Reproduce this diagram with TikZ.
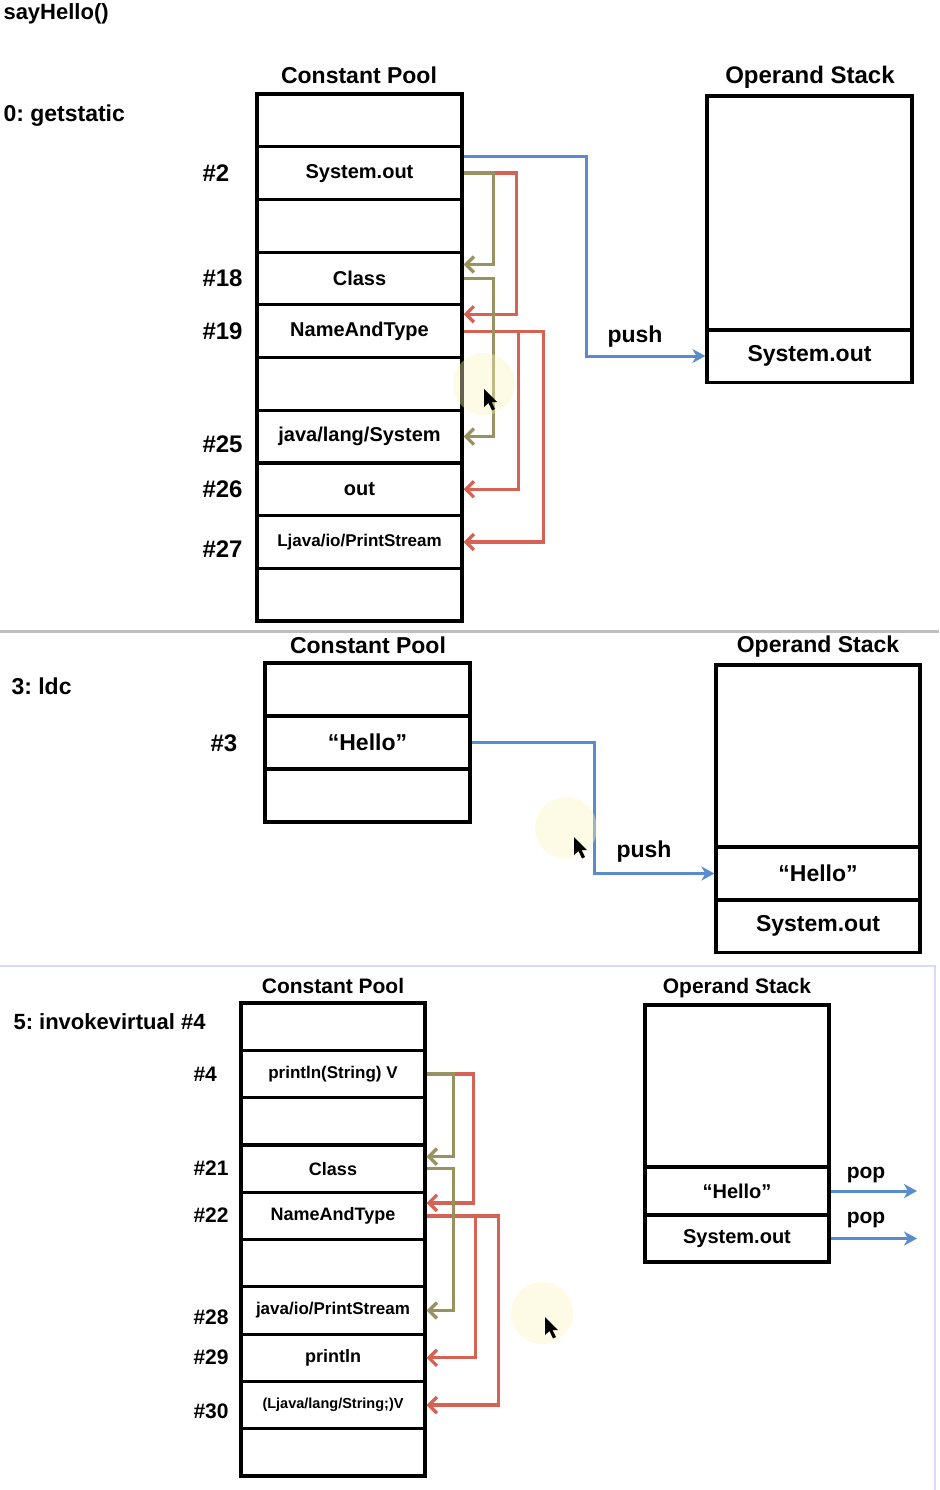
\documentclass[tikz,border=0pt]{standalone}
\usepackage{fontspec}
\setmainfont{Liberation Sans}
\usepackage{xcolor}
\usetikzlibrary{arrows.meta}
\definecolor{pushblue}{RGB}{88, 140, 204}
\definecolor{refolive}{RGB}{152, 146, 96}
\definecolor{refred}{RGB}{214, 98, 84}
\definecolor{glowyellow}{RGB}{250, 246, 190}

\tikzset{
  mousepointer/.pic={
    \fill[black] (0,0) -- (0,18) -- (4.5,14) -- (8,21.5) -- (11,20) -- (7.5,13) -- (13,13) -- cycle;
  }
}

\begin{document}
\frenchspacing
\begin{tikzpicture}[x=1pt, y=-1pt,
    cpcell/.style={draw, line width=3.2pt, minimum width=205pt, minimum height=52.7pt, inner sep=0pt,
      font=\bfseries\fontsize{20}{20}\selectfont},
    cpsmall/.style={cpcell, minimum width=184pt, minimum height=47.3pt, font=\bfseries\fontsize{18}{18}\selectfont},
    stackcell/.style={draw, line width=3.2pt, minimum width=205pt, minimum height=52.5pt, inner sep=0pt,
      font=\bfseries\fontsize{23}{23}\selectfont},
    title/.style={font=\bfseries\fontsize{23}{23}\selectfont},
    steplabel/.style={anchor=west, font=\bfseries\fontsize{23}{23}\selectfont},
    rowlabel/.style={anchor=west, font=\bfseries\fontsize{24}{24}\selectfont},
    pusharr/.style={pushblue, line width=3pt, -{Stealth[length=13pt, width=14pt, inset=4pt]}},
    olivearr/.style={refolive, line width=3.3pt, -{Straight Barb[length=8pt, width=16pt]}},
    redarr/.style={refred, line width=3.3pt, -{Straight Barb[length=8pt, width=16pt]}}]
    \useasboundingbox (0,0) rectangle (939,1490);

    % Panel separators
    \draw[black!25, line width=3pt] (0,631) -- (939,631);
    \draw[blue!15, line width=2pt] (0,966) -- (935,966) -- (935,1490);

    % Panel 1 (getstatic) - Top
    \node[steplabel, font=\bfseries\fontsize{22}{22}\selectfont] (method) at (0,14) {sayHello()};
    \node[steplabel] (step0) at (0,116) {0: getstatic};
    \node[title] (cp1title) at (359,75) {Constant Pool};
    \node[title, font=\bfseries\fontsize{24}{24}\selectfont] (st1title) at (810,77) {Operand Stack};

    \node[cpcell] (a1) at (359.5,120.4) {};
    \node[cpcell] (a2) at (359.5,173.1) {System.out};
    \node[cpcell] (a3) at (359.5,225.8) {};
    \node[cpcell] (a4) at (359.5,278.5) {Class};
    \node[cpcell] (a5) at (359.5,331.2) {NameAndType};
    \node[cpcell] (a6) at (359.5,383.9) {};
    \node[cpcell] (a7) at (359.5,436.6) {java/lang/System};
    \node[cpcell] (a8) at (359.5,489.3) {out};
    \node[cpcell, font=\bfseries\fontsize{17}{17}\selectfont] (a9) at (359.5,542) {Ljava/io/PrintStream};
    \node[cpcell] (a10) at (359.5,594.7) {};

    \node[rowlabel] (n2) at (199,173) {\#2};
    \node[rowlabel] (n18) at (199,278) {\#18};
    \node[rowlabel] (n19) at (199,331) {\#19};
    \node[rowlabel] (n25) at (199,444) {\#25};
    \node[rowlabel] (n26) at (199,489) {\#26};
    \node[rowlabel] (n27) at (199,549) {\#27};

    \node[stackcell, minimum height=234pt] (s1a) at (809.5,213) {};
    \node[stackcell] (s1b) at (809.5,356) {System.out};

    \draw[redarr] (a2.east) -- ++(53,0) |- ([yshift=17pt]a5.east);
    \draw[redarr] (a5.east) -- ++(55,0) |- (a8.east);
    \draw[redarr] (a5.east) -- ++(80,0) |- (a9.east);
    \draw[olivearr] (a2.east) -- ++(30,0) |- ([yshift=14pt]a4.east);
    \draw[olivearr] (a4.east) -- ++(30,0) |- (a7.east);
    \draw[pusharr] ([yshift=17pt]a2.east) -- ++(123,0) |- (s1b.west);
    \node[title] (push1) at (635,337) {push};

    \fill[glowyellow, opacity=0.4] (484,384) circle (31pt);
    \pic at (484,389) {mousepointer};

    % Panel 2 (ldc) - Middle
    \node[steplabel] (step3) at (8,686) {3: ldc};
    \node[title] (cp2title) at (368,645) {Constant Pool};
    \node[title] (st2title) at (818,647) {Operand Stack};

    \node[cpcell, minimum height=53pt] (b1) at (367.5,689.5) {};
    \node[cpcell, minimum height=53pt, font=\bfseries\fontsize{23}{23}\selectfont] (b2) at (367.5,742.5) {“Hello”};
    \node[cpcell, minimum height=53pt] (b3) at (367.5,795.5) {};
    \node[rowlabel] (n3) at (207,743) {\#3};

    \node[stackcell, minimum width=204pt, minimum height=182pt] (s2a) at (818,756) {};
    \node[stackcell, minimum width=204pt, minimum height=53pt] (s2b) at (818,873.5) {“Hello”};
    \node[stackcell, minimum width=204pt] (s2c) at (818,926) {System.out};

    \draw[pusharr] (b2.east) -- ++(123,0) |- (s2b.west);
    \node[title] (push2) at (644,852) {push};

    \fill[glowyellow, opacity=0.4] (566,828) circle (31pt);
    \pic at (574,837) {mousepointer};

    % Panel 3 (invokevirtual) - Bottom
    \node[steplabel, font=\bfseries\fontsize{22}{22}\selectfont] (step5) at (10,1022) {5: invokevirtual \#4};
    \node[title, font=\bfseries\fontsize{21}{21}\selectfont] (cp3title) at (333,986) {Constant Pool};
    \node[title, font=\bfseries\fontsize{21}{21}\selectfont] (st3title) at (737,988) {Operand Stack};

    \node[cpsmall] (c1) at (333,1026.7) {};
    \node[cpsmall, font=\bfseries\fontsize{17}{17}\selectfont] (c2) at (333,1074) {println(String) V};
    \node[cpsmall] (c3) at (333,1121.3) {};
    \node[cpsmall] (c4) at (333,1168.6) {Class};
    \node[cpsmall] (c5) at (333,1215.9) {NameAndType};
    \node[cpsmall] (c6) at (333,1263.2) {};
    \node[cpsmall, font=\bfseries\fontsize{17}{17}\selectfont] (c7) at (333,1310.5) {java/io/PrintStream};
    \node[cpsmall] (c8) at (333,1357.8) {println};
    \node[cpsmall, font=\bfseries\fontsize{14.5}{14.5}\selectfont] (c9) at (333,1405.1) {(Ljava/lang/String;)V};
    \node[cpsmall] (c10) at (333,1452.4) {};

    \node[rowlabel, font=\bfseries\fontsize{21}{21}\selectfont] (n4) at (190,1074) {\#4};
    \node[rowlabel, font=\bfseries\fontsize{21}{21}\selectfont] (n21) at (190,1168) {\#21};
    \node[rowlabel, font=\bfseries\fontsize{21}{21}\selectfont] (n22) at (190,1215) {\#22};
    \node[rowlabel, font=\bfseries\fontsize{21}{21}\selectfont] (n28) at (190,1317) {\#28};
    \node[rowlabel, font=\bfseries\fontsize{21}{21}\selectfont] (n29) at (190,1357) {\#29};
    \node[rowlabel, font=\bfseries\fontsize{21}{21}\selectfont] (n30) at (190,1411) {\#30};

    \node[stackcell, minimum width=184pt, minimum height=162pt] (t3a) at (737,1086) {};
    \node[stackcell, minimum width=184pt, minimum height=48pt, font=\bfseries\fontsize{20}{20}\selectfont] (t3b) at (737,1191) {“Hello”};
    \node[stackcell, minimum width=184pt, minimum height=47pt, font=\bfseries\fontsize{20}{20}\selectfont] (t3c) at (737,1238.5) {System.out};

    \draw[redarr] (c2.east) -- ++(47,0) |- ([yshift=13pt]c5.east);
    \draw[redarr] (c5.east) -- ++(49,0) |- (c8.east);
    \draw[redarr] (c5.east) -- ++(72,0) |- (c9.east);
    \draw[olivearr] (c2.east) -- ++(27,0) |- ([yshift=12pt]c4.east);
    \draw[olivearr] (c4.east) -- ++(27,0) |- (c7.east);

    \coordinate (pop1) at (917,1191);
    \coordinate (pop2) at (917,1238.5);
    \draw[pusharr] (t3b.east) -- (pop1);
    \draw[pusharr] (t3c.east) -- (pop2);
    \node[title, font=\bfseries\fontsize{21}{21}\selectfont] (poplabel1) at (866,1175) {pop};
    \node[title, font=\bfseries\fontsize{21}{21}\selectfont] (poplabel2) at (866,1220) {pop};

    \fill[glowyellow, opacity=0.4] (542,1313) circle (31pt);
    \pic at (545,1317) {mousepointer};
\end{tikzpicture}
\end{document}
